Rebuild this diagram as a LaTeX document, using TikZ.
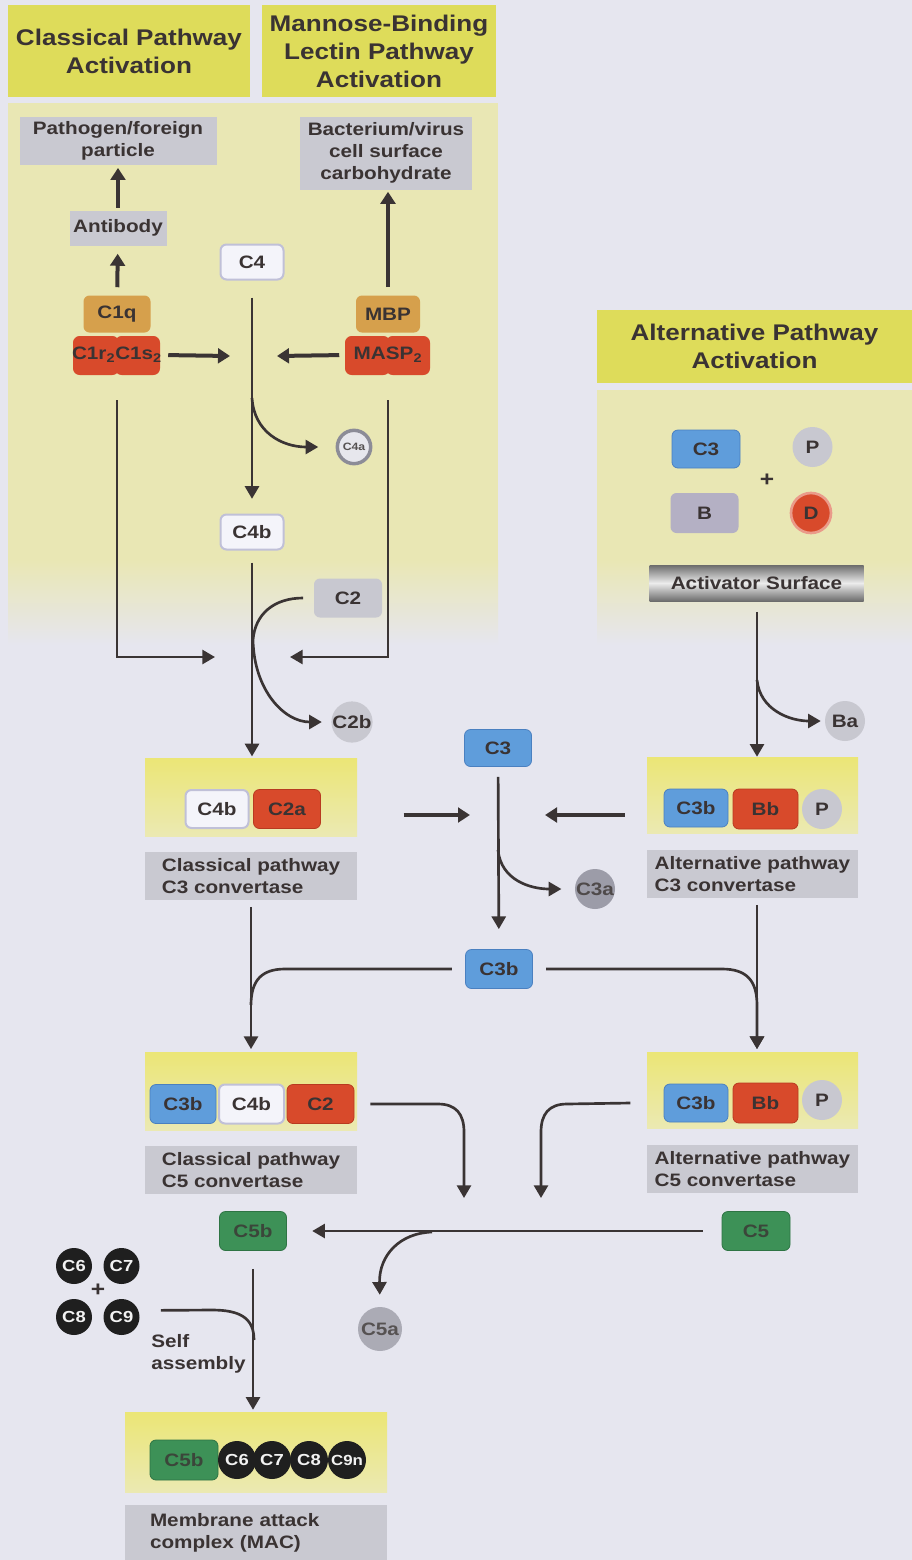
\documentclass[tikz,border=0pt]{standalone}
\usepackage{fontspec}
\setmainfont{Liberation Sans}[FakeStretch=1.15]
\usetikzlibrary{arrows.meta}
\definecolor{bg}{HTML}{E6E6EF}
\definecolor{pale}{HTML}{E9E7B4}
\definecolor{hdrY}{HTML}{DEDC5A}
\definecolor{convY}{HTML}{EBE676}
\definecolor{convY2}{HTML}{EBE9B2}
\definecolor{gryB}{HTML}{C9C9D1}
\definecolor{txt}{HTML}{3A3333}
\definecolor{lnC}{HTML}{3A3434}
\definecolor{bluC}{HTML}{5F9DDB}
\definecolor{bluD}{HTML}{4A80C0}
\definecolor{redC}{HTML}{D84A2B}
\definecolor{redD}{HTML}{B83A20}
\definecolor{tanC}{HTML}{D6A04C}
\definecolor{grnC}{HTML}{3D9157}
\definecolor{grnD}{HTML}{2E7444}
\definecolor{whtC}{HTML}{F4F4FA}
\definecolor{whtD}{HTML}{C0C0D8}
\definecolor{cirC}{HTML}{C8C8D0}
\definecolor{cirD}{HTML}{9C9CA8}
\definecolor{bgrC}{HTML}{B4B0C4}
\newcommand{\xhdr}{\bfseries\fontsize{17}{21}\selectfont}
\newcommand{\xlbl}{\bfseries\fontsize{13.5}{16.5}\selectfont}
\newcommand{\xprot}{\bfseries\fontsize{13.5}{16}\selectfont}
\newcommand{\xsm}{\bfseries\fontsize{12}{14}\selectfont}
\tikzset{
 hdr/.style={fill=hdrY, text=txt, font=\xhdr, align=center, inner sep=0pt},
 gbox/.style={fill=gryB, text=txt, font=\xlbl, align=center, inner sep=0pt},
 lbl/.style={fill=gryB, text=txt, font=\xlbl, align=left, inner sep=0pt, minimum height=36pt},
 conv/.style={top color=convY, bottom color=convY2, inner sep=0pt, minimum width=159pt, minimum height=58.5pt},
 prot/.style={rectangle, rounded corners=4.5pt, minimum width=51pt, minimum height=28.5pt, inner sep=0pt, font=\xprot, text=txt},
 pblue/.style={prot, fill=bluC, draw=bluD, line width=0.6pt},
 pred/.style={prot, fill=redC, draw=redD, line width=0.6pt},
 ptan/.style={prot, fill=tanC},
 pgrn/.style={prot, fill=grnC, draw=grnD, line width=0.6pt},
 pwht/.style={prot, fill=whtC, draw=whtD, line width=1.5pt},
 pgry/.style={prot, fill=cirC},
 circ/.style={circle, inner sep=0pt, minimum size=30pt, font=\xprot, text=txt},
 blk/.style={circle, inner sep=0pt, minimum size=27pt, fill=black!88, text=white!90!gray, font=\xsm},
 ln/.style={draw=lnC, line width=2pt},
 arr/.style={draw=lnC, line width=2pt, -{Triangle[width=10.5pt,length=9.5pt]}},
 thk/.style={draw=lnC, line width=3pt, -{Triangle[width=11pt,length=9pt]}},
}
\begin{document}
\begin{tikzpicture}[x=0.75pt,y=-0.75pt]
\useasboundingbox (0,0) rectangle (912,1560);
\fill[bg] (0,0) rectangle (912,1560);
% pale activation regions
\fill[pale] (8,103) rectangle (498,560);
\shade[top color=pale, bottom color=bg] (8,560) rectangle (498,645);
\fill[pale] (597,390) rectangle (912,560);
\shade[top color=pale, bottom color=bg] (597,560) rectangle (912,645);

% headers
\node[hdr, minimum width=181.5pt, minimum height=69pt] (hcp) at (129,51) {Classical Pathway\\Activation};
\node[hdr, minimum width=175.5pt, minimum height=69pt] (hmbl) at (379,51) {Mannose-Binding\\Lectin Pathway\\Activation};
\node[hdr, minimum width=236.25pt, minimum height=54.75pt] (halt) at (754.5,346.5) {Alternative Pathway\\Activation};

% classical / lectin top
\node[gbox, minimum width=147.75pt, minimum height=36pt] (path) at (118,141) {Pathogen/foreign\\particle};
\node[gbox, minimum width=129pt, minimum height=54.75pt] (bact) at (386,153) {Bacterium/virus\\cell surface\\carbohydrate};
\node[gbox, minimum width=72.75pt, minimum height=26.25pt] (ab) at (118,228) {Antibody};
\node[pwht, minimum width=47.25pt, minimum height=26.25pt] (c4) at (252,262) {C4};
\node[ptan, minimum width=50.25pt, minimum height=27.75pt] (c1q) at (117,314) {C1q};
\node[ptan, minimum width=48pt, minimum height=27.75pt] (mbp) at (388,314) {MBP};
\fill[redC, rounded corners=5pt] (73,336) rectangle (119,375);
\fill[redC, rounded corners=5pt] (115,336) rectangle (160,375);
\node[prot, minimum width=66pt, minimum height=30pt] (c1rs) at (117,355) {C1r\textsubscript{2}C1s\textsubscript{2}};
\fill[redC, rounded corners=5pt] (345,336) rectangle (390,375);
\fill[redC, rounded corners=5pt] (386,336) rectangle (430,375);
\node[prot, minimum width=63.75pt, minimum height=30pt] (masp) at (388,355) {MASP\textsubscript{2}};
\node[circ, minimum size=25pt, fill=whtC!70!cirC, draw=cirD!90!black, line width=2.6pt, text=txt!60!gray, font=\bfseries\fontsize{8}{8}\selectfont] (c4a) at (354,447) {C4a};
\node[pwht, minimum width=47.25pt, minimum height=26.25pt] (c4b) at (252,532) {C4b};
\node[pgry, minimum height=29.25pt] (c2) at (348,598) {C2};
\node[circ, fill=cirC] (c2b) at (352,722) {C2b};

% classical C3 convertase
\node[conv] (cc3) at (251,797) {};
\node[pwht, minimum width=47.25pt] (cc3a) at (217,809) {C4b};
\node[pred, minimum width=50.25pt, minimum height=29.25pt] (cc3b) at (287,809) {C2a};
\node[lbl, minimum width=159pt] (cl3) at (251,876) {Classical pathway\\C3 convertase};

% central C3
\node[pblue, minimum width=50.25pt, minimum height=27.75pt] (c3) at (498,748) {C3};
\node[circ, fill=cirD, text=txt!70!gray] (c3a) at (595,889) {C3a};
\node[pblue, minimum width=50.25pt, minimum height=29.25pt] (c3b) at (499,969) {C3b};

% alternative top
\node[pblue] (ac3) at (706,449) {C3};
\node[circ, fill=cirC] (p1) at (812.5,447) {P};
\node[font=\bfseries\fontsize{16}{16}\selectfont, text=txt, inner sep=0pt] (plus1) at (767,480) {+};
\node[prot, fill=bgrC, minimum height=30pt] (bb) at (704.5,513) {B};
\node[circ, fill=redC, draw=redC!55!white, line width=2pt] (dd) at (811,513) {D};
\node[font=\xlbl, text=txt, inner sep=0pt, minimum width=160.5pt, minimum height=27pt,
      top color=gray!85!black, bottom color=gray!85!black, middle color=gray!15] (act) at (756.5,583) {Activator Surface};
\node[circ, fill=cirC] (ba) at (845,721) {Ba};

% alternative C3 convertase
\node[conv, minimum width=158.25pt, minimum height=57pt] (ac3c) at (752.5,795) {};
\node[pblue, minimum width=48pt] (ac3x) at (696,808) {C3b};
\node[pred, minimum width=48.75pt, minimum height=30pt] (ac3y) at (765.5,809) {Bb};
\node[circ, fill=cirC] (ac3p) at (822,809) {P};
\node[lbl, minimum width=158.25pt] (al3) at (752.5,874) {Alternative pathway\\C3 convertase};

% classical C5 convertase
\node[conv] (cc5) at (251,1091) {};
\node[pblue, minimum width=49.5pt, minimum height=29.25pt] (cc5a) at (183,1104) {C3b};
\node[pwht, minimum width=48.75pt, minimum height=29.25pt] (cc5b) at (251.5,1104) {C4b};
\node[pred, minimum width=50.25pt, minimum height=29.25pt] (cc5c) at (320.5,1104) {C2};
\node[lbl, minimum width=159pt] (cl5) at (251,1170) {Classical pathway\\C5 convertase};

% alternative C5 convertase
\node[conv, minimum width=158.25pt, minimum height=57pt] (ac5) at (752.5,1090) {};
\node[pblue, minimum width=48pt] (ac5x) at (696,1103) {C3b};
\node[pred, minimum width=48.75pt, minimum height=30pt] (ac5y) at (765.5,1103) {Bb};
\node[circ, fill=cirC] (ac5p) at (822,1100) {P};
\node[lbl, minimum width=158.25pt] (al5) at (752.5,1169) {Alternative pathway\\C5 convertase};

% C5
\node[pgrn, minimum height=29.25pt, text=txt!80!grnC] (c5) at (756,1231) {C5};
\node[pgrn, minimum width=50.25pt, minimum height=29.25pt, text=txt!80!grnC] (c5b) at (253,1231) {C5b};
\node[circ, minimum size=33pt, fill=cirD!85!white, text=txt!60!gray] (c5a) at (380,1329) {C5a};

% terminal components
\node[blk] (c6) at (74,1266) {C6};
\node[blk] (c7) at (121.5,1266) {C7};
\node[blk] (c8) at (74,1317) {C8};
\node[blk] (c9) at (121.5,1317) {C9};
\node[font=\bfseries\fontsize{16}{16}\selectfont, text=txt, inner sep=0pt] (plus2) at (98,1290) {+};
\node[font=\xlbl, text=txt, align=left, anchor=west, inner sep=0pt] (self) at (151,1354) {Self\\assembly};

% MAC
\node[conv, minimum width=196.5pt, minimum height=60pt] (mac) at (256,1452) {};
\node[pgrn, minimum width=51pt, minimum height=30pt, text=txt!80!grnC] (m5) at (184,1460) {C5b};
\node[blk, minimum size=28.5pt] (m6) at (237,1460) {C6};
\node[blk, minimum size=28.5pt] (m7) at (272,1460) {C7};
\node[blk, minimum size=28.5pt] (m8) at (309,1460) {C8};
\node[blk, minimum size=28.5pt, font=\bfseries\fontsize{11}{12}\selectfont] (m9) at (347,1460) {C9n};
\node[lbl, text width=159pt, inner xsep=18.75pt, minimum height=41.25pt] (macl) at (256,1532.5) {Membrane attack\\complex (MAC)};

% ---------- connectors ----------
\coordinate (j1) at (230,356);
\coordinate (j2) at (277,356);
\coordinate (j3) at (215,657);
\coordinate (j4) at (290,657);
\coordinate (b1) at (252,398);
\coordinate (b2) at (757,680);
\coordinate (b3) at (498,850);
\coordinate (b5) at (432,1232);
\coordinate (t1) at (470,815);
\coordinate (t2) at (545,815);
\coordinate (m1) at (464,1198);
\coordinate (m2) at (541,1198);

\draw[thk, shorten <=2pt, shorten >=2pt] (ab) -- (path);
\draw[thk, shorten <=6pt, shorten >=6pt] (c1q) -- (ab);
\draw[thk, shorten <=6pt, shorten >=1.5pt] (mbp.north) -- (mbp.north |- bact.south);
\draw[thk, shorten <=4.5pt] (c1rs.east) -- (j1);
\draw[thk, shorten <=4.5pt] (masp.west) -- (j2);
\draw[arr, shorten <=12.75pt, shorten >=11pt] (c4) -- (c4b);
\draw[arr, shorten >=13pt] (b1) .. controls (254,432) and (282,447) .. (c4a.west);
\draw[arr] ([yshift=-18.75pt]c1rs.south) |- (j3);
\draw[arr] ([yshift=-18.75pt]masp.south) |- (j4);
\draw[arr, shorten <=9pt, shorten >=1pt] (c4b.south) -- (c4b.south |- cc3.north);
\draw[arr, shorten >=7pt] ([xshift=-8pt]c2.west) .. controls (274,598) and (255,614) .. (253,640)
   .. controls (254,690) and (284,722) .. (c2b.west);

\draw[thk] ([xshift=62pt]cc3b.east |- t1) -- (t1);
\draw[thk] ([xshift=-29pt]ac3x.west |- t2) -- (t2);
\draw[arr, shorten <=7.5pt, shorten >=15pt] (c3) -- (c3b);
\draw[arr, shorten >=10pt] (b3) .. controls (501,880) and (530,889) .. (c3a.west);

\draw[arr, shorten <=8pt] (b2 |- act.south) -- (b2 |- ac3c.north);
\draw[arr, shorten >=3pt] (b2) .. controls (760,710) and (790,721) .. (ba.west);

\draw[arr, shorten <=5pt, shorten >=2pt] (cl3.south) -- (cc5.north);
\draw[ln] ([xshift=-10pt]c3b.west) -- (285,969) .. controls (262,969) and (251,980) .. (251,1005);
\draw[arr, shorten <=5pt, shorten >=2pt] (b2 |- al3.south) -- (b2 |- ac5.north);
\draw[arr, shorten >=2pt] ([xshift=10pt]c3b.east) -- (722,969) .. controls (746,969) and (757,980) .. (757,1005) -- (b2 |- ac5.north);

\draw[arr] ([xshift=12pt]cc5c.east) -- (438,1104) .. controls (456,1104) and (464,1114) .. (464,1132) -- (m1);
\draw[arr] ([xshift=-25pt]ac5x.west) -- (567,1104) .. controls (549,1104) and (541,1114) .. (541,1132) -- (m2);

\draw[arr, shorten <=14pt, shorten >=19pt] (c5.west) -- (c5b.east);
\draw[arr, shorten >=9pt] (b5) .. controls (400,1233) and (379,1255) .. (c5a.north);
\draw[arr, shorten <=13.5pt, shorten >=1.5pt] (c5b.south) -- (c5b.south |- mac.north);
\draw[ln] ([xshift=15.75pt, yshift=5pt]c9.east) -- (212,1310) .. controls (240,1310) and (254,1318) .. (254,1340);
\end{tikzpicture}
\end{document}
